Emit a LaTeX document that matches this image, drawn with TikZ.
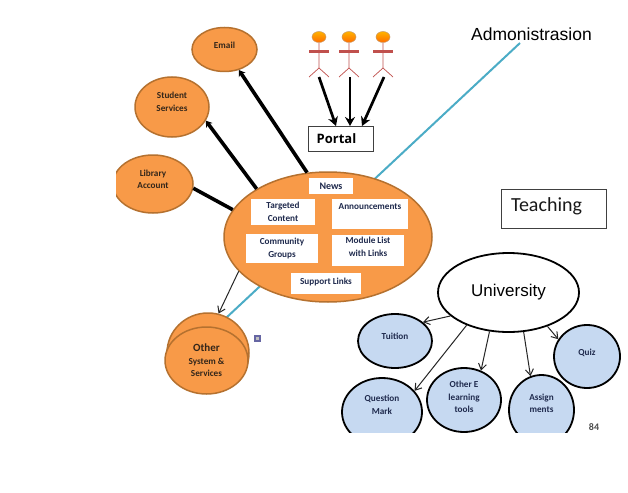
\documentclass[tikz,border=0pt]{standalone}
\usepackage{fontspec}
\setmainfont{Carlito}
\newfontfamily\arialf{Liberation Sans}
\newfontfamily\opens{Open Sans}
\usetikzlibrary{shapes.geometric,arrows.meta}
\definecolor{orfill}{HTML}{F89A48}
\definecolor{orline}{HTML}{B5712F}
\definecolor{blfill}{HTML}{C6D9F1}
\definecolor{tealln}{HTML}{4BACC6}
\definecolor{redact}{HTML}{C0504D}
\definecolor{navytx}{HTML}{1F2A4D}
\definecolor{browntx}{HTML}{33261A}
\tikzset{
  small/.style={font=\fontsize{9.2}{12.5}\selectfont\bfseries,align=center},
  orb/.style={ellipse,draw=orline,line width=1.5pt,fill=orfill,inner sep=0pt,small,text=browntx},
  blb/.style={ellipse,draw=black,line width=1.8pt,fill=blfill,inner sep=0pt,small,text=navytx},
  wbox/.style={rectangle,fill=white,inner sep=0pt,small,text=navytx},
  frame/.style={rectangle,draw=black!75,line width=1pt,fill=white,inner sep=0pt},
  heavy/.style={line width=3.6pt,-{Stealth[length=6pt,width=8pt]}},
  heavyact/.style={line width=2.7pt,-{Stealth[length=9pt,width=10pt]}},
  thin/.style={line width=1pt,draw=black!85,-{Straight Barb[length=6pt,width=8pt]}},
  actbody/.style={draw=redact,line width=.7pt},
  actbar/.style={draw=redact,line width=2.8pt},
}
\begin{document}
\begin{tikzpicture}[x=1pt,y=-1pt]
\useasboundingbox[fill=white] (0,0) rectangle (628,492);
% teal line
\coordinate (admtop) at (520,43);
\coordinate (admlow) at (226,318);
\draw[tealln,line width=2pt] (admtop) -- (admlow);
% left ellipses
\node[orb,minimum width=65pt,minimum height=44pt,text depth=9pt] (email) at (224.5,49.5) {Email};
\node[orb,minimum width=74pt,minimum height=60pt,text depth=10pt] (student) at (172,107) {Student\\Services};
\begin{scope}
\clip (116,140) rectangle (220,230);
\node[orb,minimum width=80pt,minimum height=58pt,text depth=9pt] (library) at (153,184) {Library\\Account};
\end{scope}
% other
\node[orb,minimum width=82pt,minimum height=80pt] (otherb) at (208,353) {};
\node[orb,minimum width=83pt,minimum height=67pt] (other) at (206.5,360.5)
  {{\fontsize{11}{12.5}\selectfont Other}\\System \&\\Services};
\node[rectangle,fill=black!25,draw=black!60!blue!60,line width=2pt,minimum size=5pt,inner sep=0pt] (sq) at (257,338) {};
% main
\node[orb,minimum width=208pt,minimum height=130pt] (main) at (328,237) {};
\node[wbox,minimum width=44pt,minimum height=16pt,font=\fontsize{10}{12}\selectfont\bfseries] (news) at (331,186) {News};
\node[wbox,minimum width=64pt,minimum height=26pt] (target) at (283,212) {Targeted\\Content};
\node[wbox,minimum width=76pt,minimum height=30pt,text depth=14pt] (annou) at (370,214) {Announcements};
\node[wbox,minimum width=72pt,minimum height=29pt] (commu) at (282,248.5) {Community\\Groups};
\node[wbox,minimum width=72pt,minimum height=31pt,text depth=7pt] (modul) at (368,250.5) {Module List\\with Links};
\node[wbox,minimum width=70pt,minimum height=21pt,text depth=5pt] (suppo) at (326,283.5) {Support Links};
% connectors left
\draw[heavy] (main.108.2) -- (email.-55.4);
\draw[heavy] (main.146.7) -- (student.-22.4);
\draw[line width=3.6pt] (main.164.1) -- (library.-6);
\draw[thin] (main.201.7) -- (otherb.75.6);
% portal
\node[frame,minimum width=65pt,minimum height=25pt,font=\opens\fontsize{13}{15}\selectfont\bfseries] (portal) at (340.5,138.5) {\hspace*{-8pt}Portal};
\coordinate (pa) at (336,126);
\coordinate (pb) at (350,126);
\coordinate (pc) at (362,126);
% actors
\foreach \n/\x in {1/319,2/349,3/383}{
  \coordinate (neck\n) at (\x,43);
  \coordinate (hip\n) at (\x,68);
  \coordinate (footl\n) at (\x-10,77);
  \coordinate (footr\n) at (\x+10,77);
  \coordinate (barl\n) at (\x-10,51.5);
  \coordinate (barr\n) at (\x+10,51.5);
  \draw[actbody] (neck\n) -- (hip\n) (footl\n) -- (hip\n) -- (footr\n);
  \draw[actbar] (barl\n) -- (barr\n);
  \node[ellipse,minimum width=14pt,minimum height=11pt,inner sep=0pt,draw=orline!70,line width=.5pt,
        top color=orange!60!yellow,bottom color=orange!85!red] (head\n) at (\x,37) {};
}
\coordinate (fa) at (319,77);
\coordinate (fb) at (350,77);
\coordinate (fc) at (384,77);
\draw[heavyact] (fa) -- (pa);
\draw[heavyact] (fb) -- (pb);
\draw[heavyact] (fc) -- (pc);
% headings
\node[font=\arialf\fontsize{17.5}{20}\selectfont,text=black,inner sep=0pt] (adm) at (531.5,34) {Admonistrasion};
\node[frame,minimum width=105pt,minimum height=39pt,text depth=8pt,font=\fontsize{20}{24}\selectfont,text=black!90] (teach) at (553.5,208.5) {\hspace*{-14pt}Teaching};
% university
\node[ellipse,draw=black,line width=1.8pt,fill=white,inner sep=0pt,minimum width=141pt,minimum height=79pt,font=\arialf\fontsize{17}{20}\selectfont] (uni) at (508.5,292.5) {University};
\node[blb,minimum width=74pt,minimum height=54pt,text depth=9pt] (tuition) at (395,341) {Tuition};
\node[blb,minimum width=66pt,minimum height=63pt,text depth=9pt] (quiz) at (587,356.5) {Quiz};
\begin{scope}
\clip (330,360) rectangle (590,432);
\node[blb,minimum width=80pt,minimum height=68pt,text depth=14pt] (qmark) at (382,412) {Question\\Mark};
\node[blb,minimum width=74pt,minimum height=64pt,text depth=6pt] (elearn) at (464,400) {Other E\\learning\\tools};
\node[blb,minimum width=65pt,minimum height=70pt,text depth=13pt] (assign) at (541.5,410) {Assign\\ments};
\end{scope}
\draw[thin] (uni.202.6) -- (tuition.34.2);
\draw[thin] (uni.218) -- (qmark.33.7);
\draw[thin] (uni.244.9) -- (elearn.60.5);
\draw[thin] (uni.-69.8) -- (assign.108.7);
\draw[thin] (uni.-41) -- (quiz.149.7);
\node[small,text=black!70,font=\fontsize{10}{11}\selectfont\bfseries,inner sep=0pt] (pagenum) at (594,427) {84};
\end{tikzpicture}
\end{document}
